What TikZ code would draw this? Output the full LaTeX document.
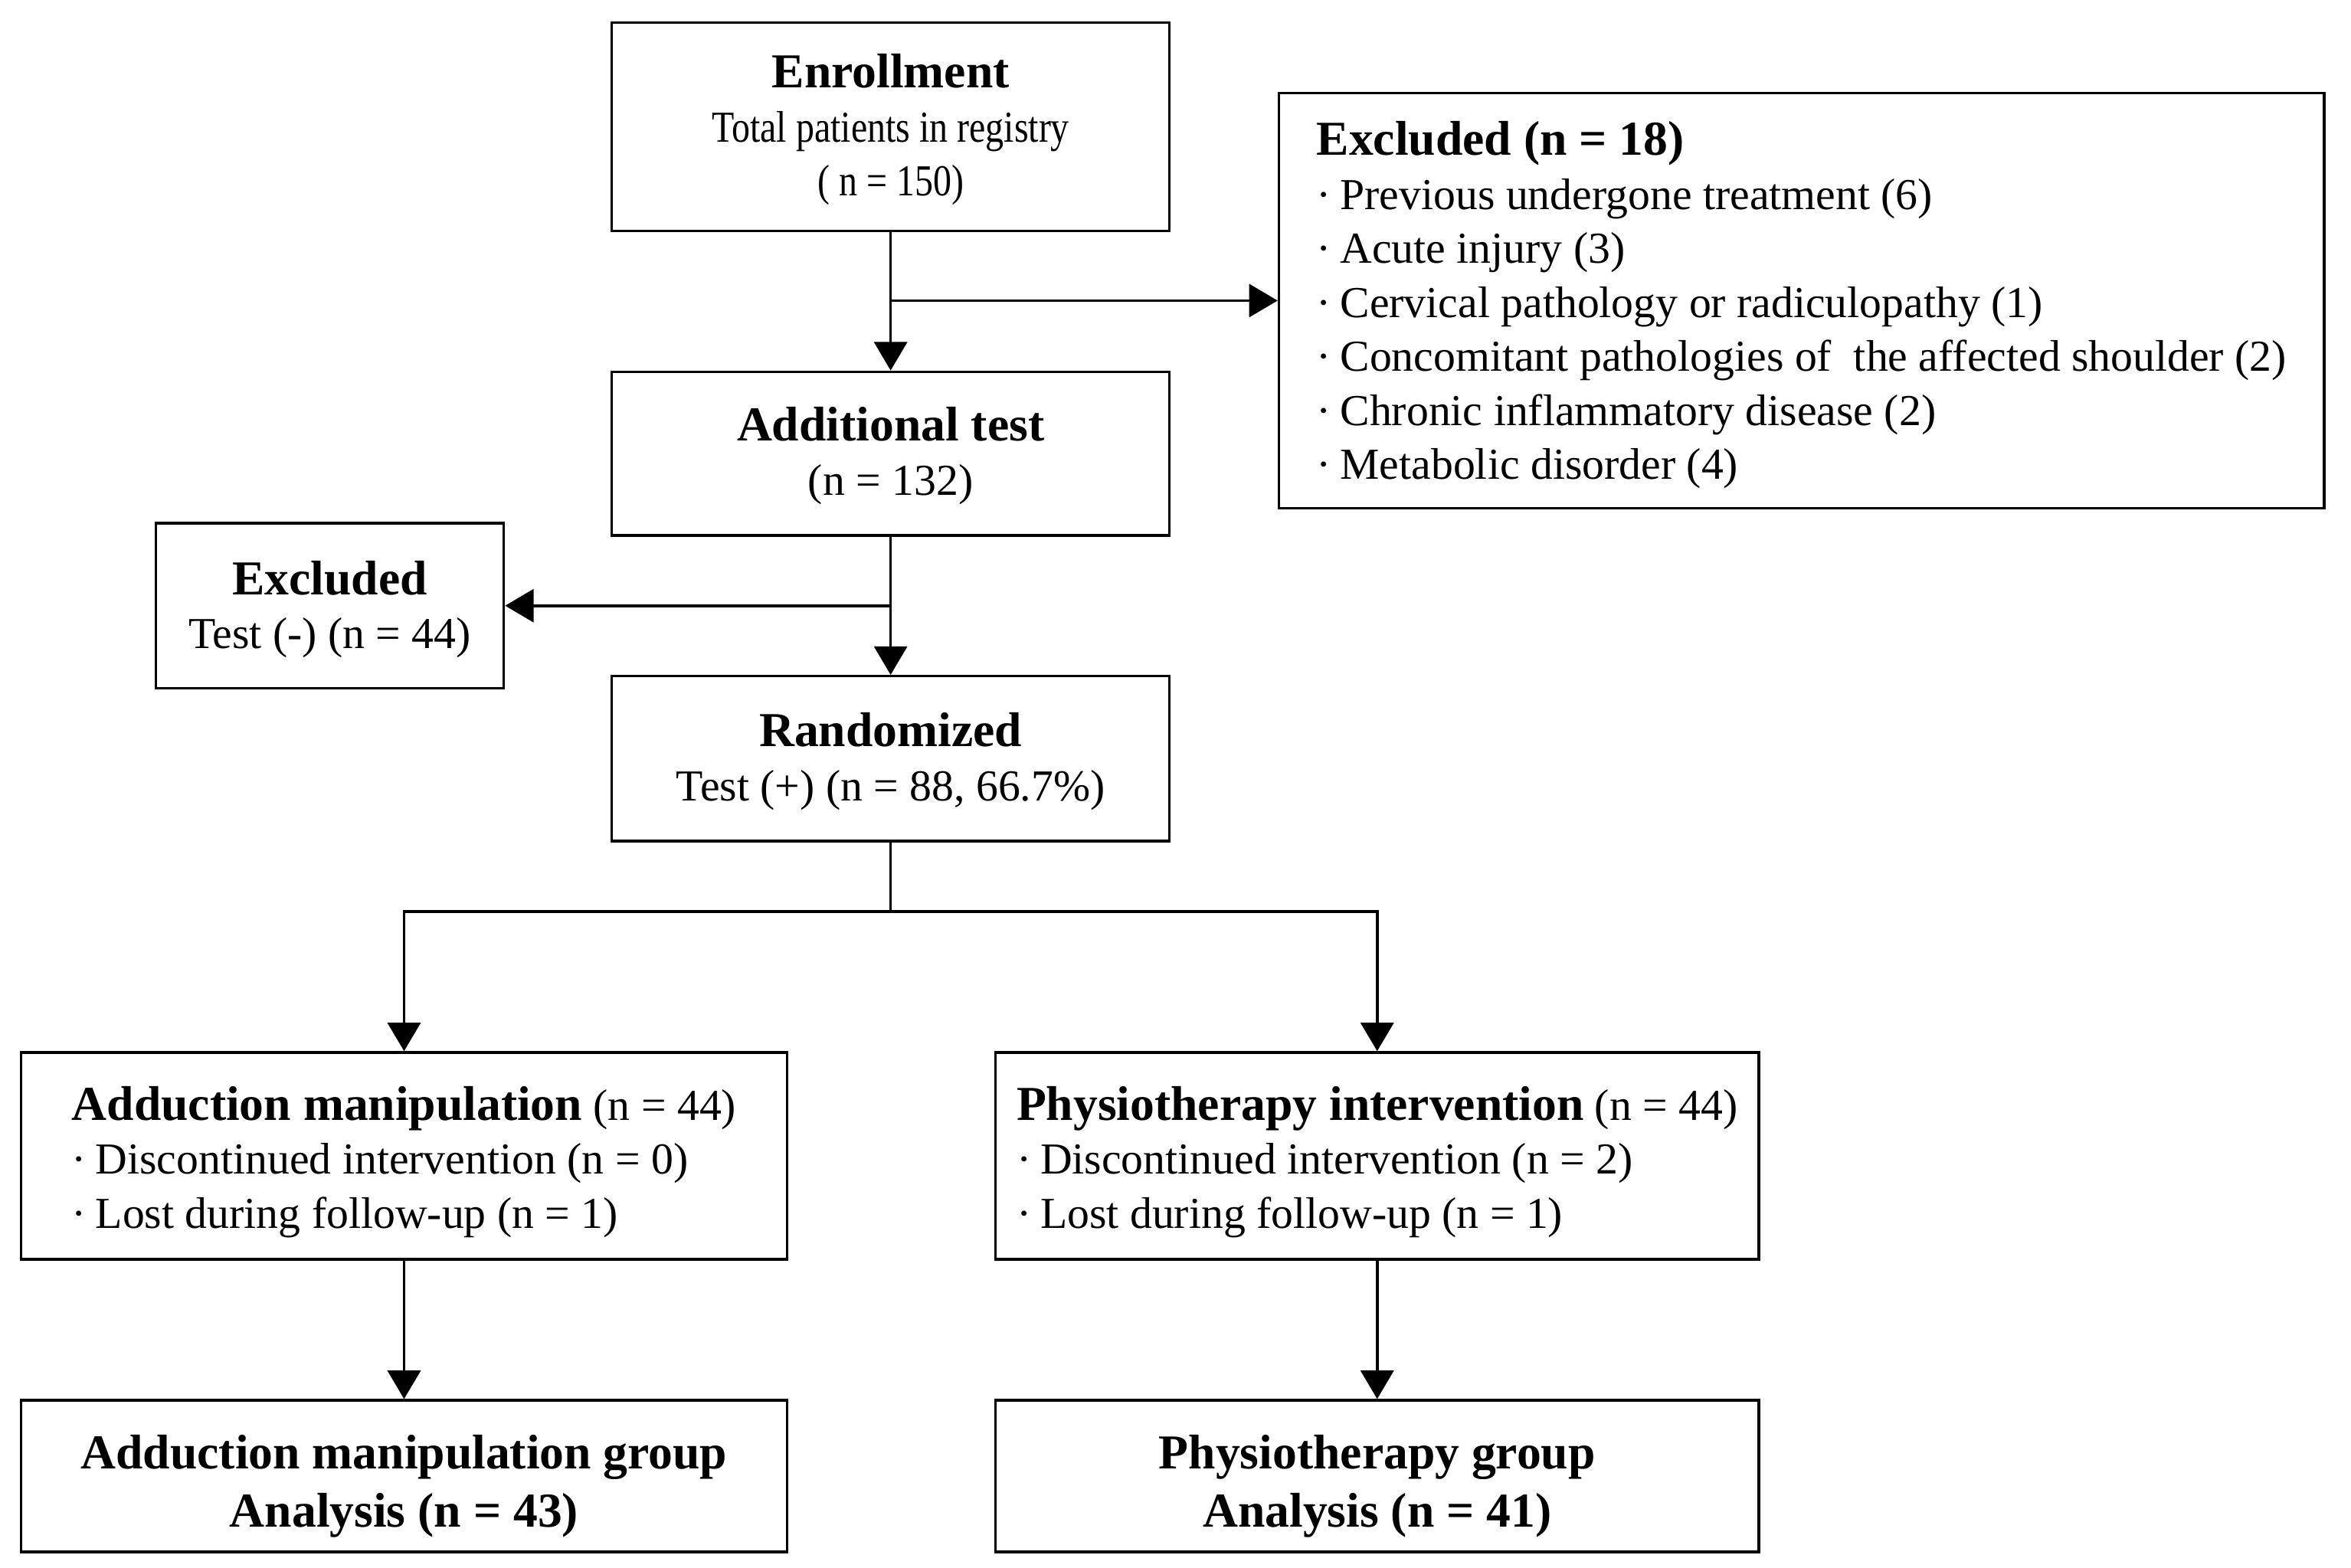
\documentclass[tikz,border=0pt]{standalone}
\usepackage{fontspec}
\setmainfont{Liberation Serif}
\usepackage{graphicx}
\usetikzlibrary{arrows.meta}
\newcommand\rtxt{\fontsize{29.5}{36}\selectfont}
\newcommand\btxt{\fontsize{32.5}{36}\selectfont\bfseries}
\newcommand\bul{\textperiodcentered\hspace{6pt}}
\newcommand\cond[1]{\scalebox{0.83}[1]{#1}}
\newcommand\topstr[1]{\rule{0pt}{#1}}
\begin{document}
\begin{tikzpicture}[x=1pt,y=-1pt,
  box/.style={draw, line width=1.8pt, inner sep=0pt, font=\rtxt, align=center},
  lbox/.style={box, align=left},
  ln/.style={line width=1.8pt},
  arr/.style={ln, -{Triangle[length=19pt,width=22pt]}}]
\useasboundingbox (0,0) rectangle (1568,1045.8);

\node[box, minimum width=372pt, minimum height=139pt] (enroll) at (594,84.5)
  {\topstr{26.5pt}{\btxt Enrollment}\\ \cond{Total patients in registry}\\ \cond{( n = 150)}};

\node[lbox, minimum width=697pt, minimum height=277pt] (excl1) at (1201.5,200.5)
  {\topstr{28.5pt}{\btxt Excluded (n = 18)}\\
   \bul Previous undergone treatment (6)\\
   \bul Acute injury (3)\\
   \bul Cervical pathology or radiculopathy (1)\\
   \bul Concomitant pathologies of\ \ the affected shoulder (2)\\
   \bul Chronic inflammatory disease (2)\\
   \bul Metabolic disorder (4)};

\node[box, minimum width=372pt, minimum height=109pt] (addtest) at (594,302.5)
  {\topstr{25.5pt}{\btxt Additional test}\\ (n = 132)};

\node[box, minimum width=232pt, minimum height=110pt] (excl2) at (220,404)
  {\topstr{27.5pt}{\btxt Excluded}\\ Test (-) (n = 44)};

\node[box, minimum width=372pt, minimum height=110pt] (random) at (594,506)
  {\topstr{26.5pt}{\btxt Randomized}\\ Test (+) (n = 88, 66.7\%)};

\node[lbox, minimum width=511pt, minimum height=138pt] (adduct) at (269.5,771)
  {\topstr{30.5pt}{\btxt Adduction manipulation} (n = 44)\\
   \bul Discontinued intervention (n = 0)\\
   \bul Lost during follow-up (n = 1)};

\node[lbox, minimum width=509pt, minimum height=138pt] (physio) at (918.5,771)
  {\topstr{30.5pt}{\btxt Physiotherapy intervention} (n = 44)\\
   \bul Discontinued intervention (n = 2)\\
   \bul Lost during follow-up (n = 1)};

\node[box, minimum width=511pt, minimum height=101pt] (groupA) at (269.5,984.5)
  {\topstr{36pt}{\btxt Adduction manipulation group}\\[3pt] {\btxt Analysis (n = 43)}};

\node[box, minimum width=509pt, minimum height=101pt] (groupP) at (918.5,984.5)
  {\topstr{36pt}{\btxt Physiotherapy group}\\[3pt] {\btxt Analysis (n = 41)}};

\coordinate (split) at (594,608);

\draw[arr] (enroll.south) -- (addtest.north);
\draw[arr] (enroll.south |- excl1.west) -- (excl1.west);
\draw[arr] (addtest.south) -- (random.north);
\draw[arr] (addtest.south |- excl2.east) -- (excl2.east);
\draw[ln] (random.south) -- (split);
\draw[arr] (split) -| (adduct.north);
\draw[arr] (split) -| (physio.north);
\draw[arr] (adduct.south) -- (groupA.north);
\draw[arr] (physio.south) -- (groupP.north);
\end{tikzpicture}
\end{document}
